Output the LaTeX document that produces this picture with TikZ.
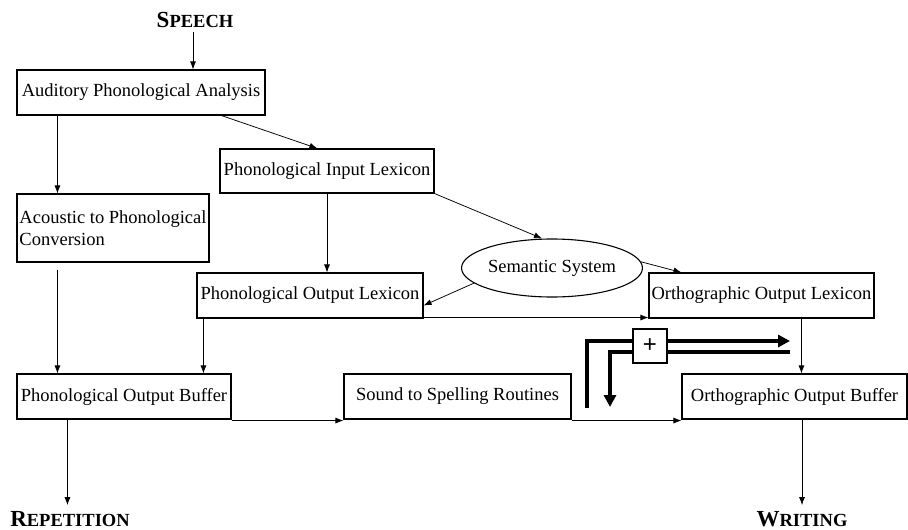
\documentclass[tikz,border=0pt]{standalone}
\usepackage{fontspec}
\setmainfont{Liberation Serif}
\newfontfamily\plusfont{Liberation Sans}
\usetikzlibrary{arrows.meta,calc,shapes.geometric}
\newcommand{\bigsc}[2]{\textbf{{\fontsize{23}{26}\selectfont #1}{\fontsize{18.5}{22}\selectfont #2}}}
\begin{document}
\begin{tikzpicture}[x=1pt,y=-1pt,
  every node/.style={font=\fontsize{18.5}{22}\selectfont, inner sep=0pt},
  box/.style={draw, line width=1.1pt, rectangle},
  arr/.style={line width=0.75pt, -{Latex[length=8pt,width=6pt]}},
  thickarr/.style={line width=3.6pt, -{Triangle[length=12pt,width=12pt]}}
]
\useasboundingbox (0,0) rectangle (908,530);

% labels
\node (speech) at (195,20) {\bigsc{S}{PEECH}};
\node (repetition) at (70,519) {\bigsc{R}{EPETITION}};
\node (writing) at (802,519) {\bigsc{W}{RITING}};

% boxes
\node[box, minimum width=248pt, minimum height=45pt] (apa) at (141,92.5) {Auditory Phonological Analysis};
\node[box, minimum width=214pt, minimum height=44pt] (pil) at (327,171) {Phonological Input Lexicon};
\node[box, minimum width=192pt, minimum height=68pt, align=left] (acpc) at (113,228) {Acoustic to Phonological\\Conversion};
\node[draw, ellipse, line width=1.1pt, minimum width=170pt, minimum height=58pt] (sem) at (552,268) {Semantic System};
\node[box, minimum width=226pt, minimum height=45pt] (pol) at (310,295.5) {Phonological Output Lexicon};
\node[box, minimum width=225pt, minimum height=45pt] (ool) at (761.5,295.5) {Orthographic Output Lexicon};
\node[box, minimum width=214pt, minimum height=45pt] (pob) at (124,396.5) {Phonological Output Buffer};
\node[box, minimum width=227pt, minimum height=45pt] (ssr) at (457.5,396.5) {Sound to Spelling Routines};
\node[box, minimum width=225pt, minimum height=45pt] (oob) at (794.5,396.5) {Orthographic Output Buffer};

% connectors
\draw[arr] ($(speech.south)+(-2,4)$) -- ($(speech.south |- apa.north)+(-2,0)$);
\draw[arr] ($(apa.south west)+(41,0)$) -- ($(acpc.north west)+(41,0)$);
\draw[arr] ($(apa.south west)+(205,0)$) -- ($(pil.north west)+(98,0)$);
\draw[arr] (pil.south) -- (pil.south |- pol.north);
\draw[arr] (pil.south east) -- ($(sem.north)+(-10,0)$);
\draw[arr] (sem.191) -- ($(pol.east)+(0,10)$);
\draw[arr] (sem.4) -- ($(ool.north west)+(33,0)$);
\draw[arr] ($(pol.south east)+(0,-1)$) -- ($(ool.south west)+(0,-1)$);
\draw[arr] ($(pol.south west)+(7,0)$) -- ($(pob.north west)+(187,0)$);
\draw[arr] ($(acpc.south west)+(41,7)$) -- ($(pob.north west)+(41,0)$);
\draw[arr] ($(pob.south east)+(0,1)$) -- ($(ssr.south west)+(0,1)$);
\draw[arr] ($(ssr.south east)+(0,1)$) -- ($(oob.south west)+(0,1)$);
\draw[arr] ($(ool.south west)+(153,0)$) -- ($(oob.north west)+(120,0)$);
\coordinate (repfrom) at ($(pob.south west)+(51,0)$);
\draw[arr] (repfrom) -- ($(repfrom |- repetition.north)+(0,-6)$);
\draw[arr] (oob.south -| writing) -- ($(writing.north)+(0,-6)$);

% thick arrows with plus
\coordinate (t1s) at (587,408);
\coordinate (t1c) at (587,341);
\coordinate (t1e) at (790,341);
\coordinate (t2s) at (790,352);
\coordinate (t2c) at (610,352);
\coordinate (t2e) at (610,407);
\draw[thickarr] (t1s) -- (t1c) -- (t1e);
\draw[thickarr] (t2s) -- (t2c) -- (t2e);
\node[box, fill=white, minimum width=34pt, minimum height=34pt, font=\fontsize{24}{26}\selectfont\plusfont] (plus) at (650,346) {+};
\end{tikzpicture}
\end{document}
